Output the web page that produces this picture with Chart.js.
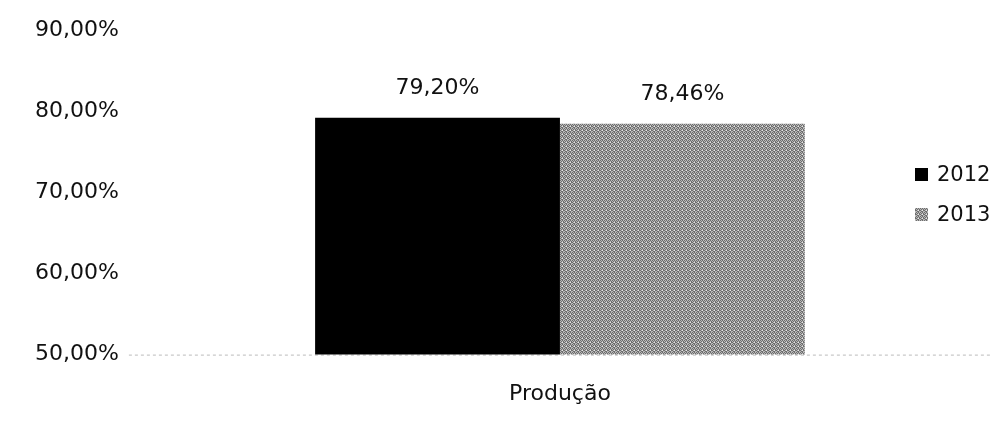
<!DOCTYPE html>
<html>
<head>
<meta charset="utf-8">
<script src="https://cdn.jsdelivr.net/npm/chart.js@4"></script>
<style>
html, body { margin: 0; padding: 0; background: #fff; }
#wrap { width: 991px; height: 430px; position: relative; }
</style>
</head>
<body>
<div id="wrap"><canvas id="chart"></canvas></div>
<script>
var categories = ["Produção"];
var years = ["2012", "2013"];
var values2012 = [79.20];
var values2013 = [78.46];
var yTicks = [50, 60, 70, 80, 90];

var FONT = "'DejaVu Sans', sans-serif";

function pct(v){
    return v.toFixed(2).replace(".", ",") + "%";
}

// grey dithered fill like the scanned original
function makePattern(){
    var c = document.createElement("canvas");
    c.width = 4; c.height = 4;
    var g = c.getContext("2d");
    g.fillStyle = "#b8b8b8";
    g.fillRect(0, 0, 4, 4);
    g.fillStyle = "#6e6e6e";
    g.fillRect(0, 0, 1, 1); g.fillRect(2, 0, 1, 1);
    g.fillRect(1, 1, 1, 1); g.fillRect(3, 1, 1, 1);
    g.fillRect(0, 2, 1, 1); g.fillRect(3, 2, 1, 1);
    g.fillRect(1, 3, 1, 1); g.fillRect(2, 3, 1, 1);
    g.fillStyle = "#e8e8e8";
    g.fillRect(2, 2, 1, 1);
    return g.createPattern(c, "repeat");
}
var grey = makePattern();

var valueLabels = {
    id: "valueLabels",
    afterDatasetsDraw: function(chart){
        var ctx = chart.ctx;
        ctx.save();
        ctx.font = "22px " + FONT;
        ctx.fillStyle = "#111";
        ctx.textAlign = "center";
        ctx.textBaseline = "middle";
        chart.data.datasets.forEach(function(ds, i){
            chart.getDatasetMeta(i).data.forEach(function(bar, j){
                ctx.fillText(pct(ds.data[j]), bar.x, bar.y - 29);
            });
        });
        ctx.restore();
    }
};

var sideLegend = {
    id: "sideLegend",
    afterDraw: function(chart){
        var ctx = chart.ctx;
        ctx.save();
        ctx.font = "21px " + FONT;
        ctx.textBaseline = "middle";
        ctx.textAlign = "left";
        chart.data.datasets.forEach(function(ds, i){
            var y = 175 + i * 40;
            ctx.fillStyle = ds.backgroundColor;
            ctx.fillRect(915, y - 7, 13, 13);
            ctx.fillStyle = "#111";
            ctx.fillText(ds.label, 937, y + 1);
        });
        ctx.restore();
    }
};

var baseLine = {
    id: "baseLine",
    beforeDatasetsDraw: function(chart){
        var ctx = chart.ctx, a = chart.chartArea;
        var y = chart.scales.y.getPixelForValue(50);
        ctx.save();
        ctx.strokeStyle = "#bbb";
        ctx.lineWidth = 1;
        ctx.setLineDash([3, 3]);
        ctx.beginPath();
        ctx.moveTo(a.left, y + 0.5);
        ctx.lineTo(a.right, y + 0.5);
        ctx.stroke();
        ctx.restore();
    }
};

new Chart(document.getElementById("chart"), {
    type: "bar",
    data: {
        labels: categories,
        datasets: [
            { label: years[0], data: values2012, backgroundColor: "#000" },
            { label: years[1], data: values2013, backgroundColor: grey }
        ]
    },
    options: {
        responsive: true,
        maintainAspectRatio: false,
        animation: false,
        layout: { padding: { top: 30, left: 33, right: 0, bottom: 5 } },
        plugins: { legend: { display: false }, tooltip: { enabled: false } },
        datasets: { bar: { categoryPercentage: 0.568, barPercentage: 1 } },
        scales: {
            x: {
                grid: { display: false },
                border: { display: false },
                ticks: { color: "#111", font: { family: FONT, size: 22 }, padding: 18 }
            },
            y: {
                min: 50, max: 90,
                afterBuildTicks: function(s){ s.ticks = yTicks.map(function(v){ return { value: v }; }); },
                grid: { display: false },
                border: { display: false },
                ticks: {
                    color: "#111",
                    font: { family: FONT, size: 22 },
                    padding: 2,
                    callback: function(v){ return pct(v); }
                }
            }
        }
    },
    plugins: [valueLabels, sideLegend, baseLine]
});
</script>
</body>
</html>
